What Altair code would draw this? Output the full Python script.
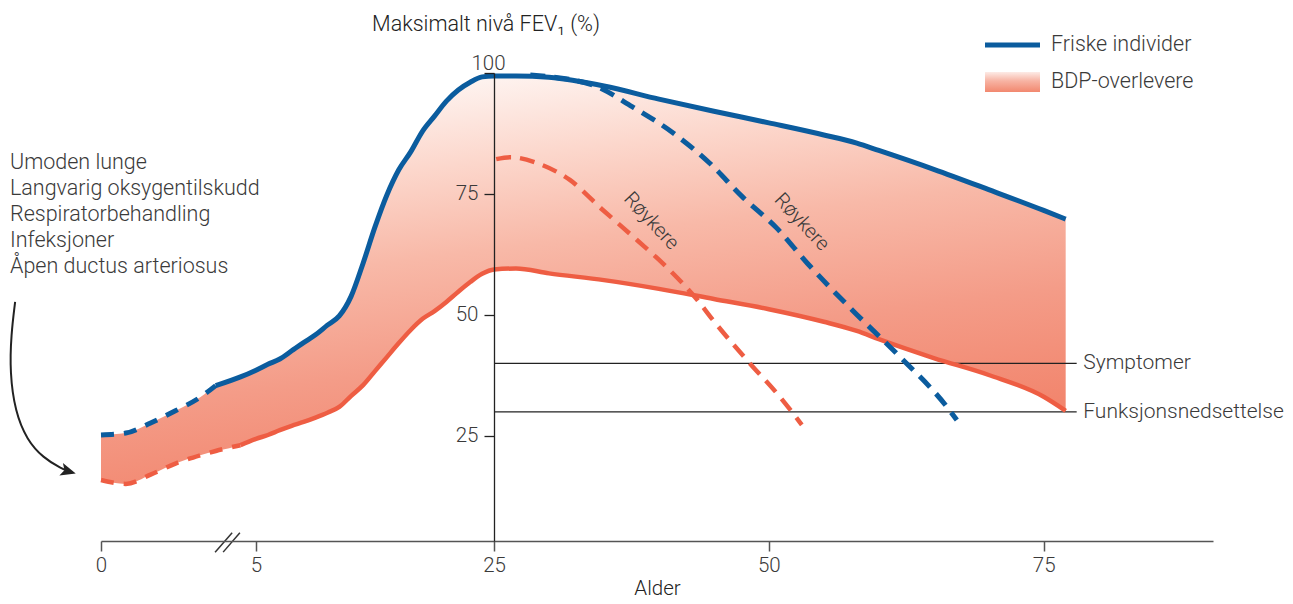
import altair as alt
import pandas as pd

# ---------------- data ----------------
ages = [0, 0.8, 1.6, 2.4, 3.2, 3.7, 4.5, 5, 6, 7, 8, 9, 10, 11, 12, 13, 14, 15, 16, 17,
        18, 19, 20, 21, 22, 23, 24, 25, 27, 30, 35, 40, 45, 50, 55, 58, 60, 65, 70, 75, 77]
healthy = [25.2, 25.6, 27.7, 30.2, 33.0, 35.4, 37.2, 38.6, 39.8, 40.9, 42.6, 44.3, 45.9, 47.9,
           49.8, 53.9, 60.7, 68.2, 74.8, 80.0, 83.7, 88.0, 91.1, 94.2, 96.5, 98.1, 99.2, 99.4,
           99.4, 99.1, 97.3, 94.6, 92.1, 89.7, 87.2, 85.5, 84.0, 80.1, 75.9, 71.6, 69.8]
bdp = [15.9, 15.1, 17.0, 19.3, 21.0, 21.9, 23.1, 24.4, 25.2, 26.2, 27.1, 27.9, 28.8, 29.8,
       31.0, 33.3, 35.5, 38.4, 41.3, 44.2, 46.9, 49.2, 50.8, 52.7, 54.8, 56.8, 58.5, 59.4,
       59.6, 58.6, 57.2, 55.4, 53.3, 51.2, 48.6, 46.7, 45.0, 41.1, 37.6, 33.1, 30.2]
healthy_dash_until = 3.7
bdp_dash_until = 4.5

smoker_h_age = [28.3, 34.0, 37.6, 41.3, 44.6, 47.6, 50.7, 53.5, 57.6, 61.6, 66.2, 67.1]
smoker_h_val = [99.6, 97.5, 93.0, 87.6, 81.4, 74.4, 68.0, 60.7, 51.0, 42.1, 31.0, 28.3]
smoker_b_age = [25.2, 26.5, 28.9, 31.9, 34.9, 38.0, 40.7, 43.5, 44.9, 48.0, 51.0, 53.0]
smoker_b_val = [82.2, 82.6, 81.4, 77.9, 71.7, 65.5, 59.9, 53.1, 49.0, 40.7, 33.1, 27.3]

threshold_vals = [40, 30]
threshold_labels = ["Symptomer", "Funksjonsnedsettelse"]
threshold_from, threshold_to, threshold_label_at = 25, 78, 78.6

smoker_label_age = [39.3, 53.0]
smoker_label_val = [69.4, 69.2]

risk_lines = ["Umoden lunge", "Langvarig oksygentilskudd", "Respiratorbehandling",
              "Infeksjoner", "Åpen ductus arteriosus"]

# arrow (annotation) path in data units (negative age = left of axis)
arrow_age = [-2.77, -2.90, -2.94, -2.77, -2.39, -1.87, -1.26, -1.05]
arrow_val = [52.7, 45.9, 38.2, 30.0, 24.2, 20.5, 18.2, 17.7]

BLUE = "#0b5c9e"
RED = "#ee5d43"
TXT = "#3a3a3a"
FONT = "Roboto"
FS = 21.5

df = pd.DataFrame({"age": ages, "healthy": healthy, "bdp": bdp})
df_h_dash = df[df.age <= healthy_dash_until]
df_h_solid = df[df.age >= healthy_dash_until]
df_b_dash = df[df.age <= bdp_dash_until]
df_b_solid = df[df.age >= bdp_dash_until]
df_sh = pd.DataFrame({"age": smoker_h_age, "v": smoker_h_val})
df_sb = pd.DataFrame({"age": smoker_b_age, "v": smoker_b_val})
df_thr = pd.DataFrame({"v": threshold_vals, "label": threshold_labels,
                       "a0": threshold_from, "a1": threshold_to, "al": threshold_label_at})
df_smk_lbl = pd.DataFrame({"age": smoker_label_age, "v": smoker_label_val, "t": "Røykere"})
df_arrow = pd.DataFrame({"age": arrow_age, "v": arrow_val, "o": range(len(arrow_age))})
df_break = pd.DataFrame({"a0": [3.68, 3.94], "a1": [4.23, 4.48], "v0": [1.0, 1.0], "v1": [5.0, 5.0]})
one = pd.DataFrame({"a": [0]})

# ---------------- scales / axes ----------------
xs = alt.Scale(domain=[0, 5, 25, 90.4], range=[0, 155, 393, 1112], nice=False, zero=False)
ys = alt.Scale(domain=[3.3, 100], nice=False, zero=False)

is100 = "datum.value == 100"
x_axis = alt.Axis(values=[0, 5, 25, 50, 75], tickSize=10, labelFontSize=20.5, labelColor=TXT,
                  labelFont=FONT, labelFontWeight=300, domainColor="#555555",
                  tickColor="#555555", domainWidth=1.5, tickWidth=1.5, title="Alder",
                  titleFont=FONT, titleFontSize=20.5, titleFontWeight=300, titleColor="#222222",
                  titlePadding=3, labelPadding=4, grid=False, labelFlush=False, zindex=1)
y_axis = alt.Axis(values=[25, 50, 75, 100], offset=-393, tickSize=10, labelFontSize=20.5,
                  labelColor=TXT, labelFont=FONT, labelFontWeight=300, domainColor="#222222",
                  tickColor="#222222", domainWidth=1.3, tickWidth=1.3, grid=False, title=None,
                  labelFlush=False, labelOverlap=False, zindex=1,
                  labelAlign={"condition": {"test": is100, "value": "center"}, "value": "right"},
                  labelBaseline={"condition": {"test": is100, "value": "bottom"}, "value": "middle"},
                  labelPadding={"condition": {"test": is100, "value": -4}, "value": 6})


def X(f):
    return alt.X(f, type="quantitative", scale=xs, axis=x_axis)


def Y(f):
    return alt.Y(f, type="quantitative", scale=ys, axis=y_axis)


grad = alt.Gradient(
    gradient="linear",
    stops=[alt.GradientStop(color="#ffffff", offset=0),
           alt.GradientStop(color="#fef5f2", offset=0.1),
           alt.GradientStop(color="#fcd7cc", offset=0.3),
           alt.GradientStop(color="#f8b9a8", offset=0.5),
           alt.GradientStop(color="#f49c88", offset=0.75),
           alt.GradientStop(color="#f2866e", offset=1)],
    x1=0, y1=0, x2=0.3, y2=1)

area = alt.Chart(df).mark_area(interpolate="monotone", color=grad).encode(
    x=X("age"), y=Y("healthy"), y2="bdp")

thr = alt.Chart(df_thr).mark_rule(color="#222222", strokeWidth=1.3).encode(
    x=X("a0"), x2="a1", y=Y("v"))
thr_txt = alt.Chart(df_thr).mark_text(align="left", baseline="middle", fontSize=21,
                                      font=FONT, fontWeight=300, color=TXT).encode(
    x=X("al"), y=Y("v"), text="label")

brk = alt.Chart(df_break).mark_rule(color="#333333", strokeWidth=1.5).encode(
    x=X("a0"), x2="a1", y=Y("v0"), y2="v1")


def line(d, field, color, width, dash=None):
    kw = dict(interpolate="monotone", color=color, strokeWidth=width, strokeCap="butt")
    if dash:
        kw["strokeDash"] = dash
    return alt.Chart(d).mark_line(**kw).encode(x=X("age"), y=Y(field))


l_b_dash = line(df_b_dash, "bdp", RED, 4.5, [13, 10])
l_b_solid = line(df_b_solid, "bdp", RED, 4.5)
l_sb = line(df_sb, "v", RED, 4.5, [15, 9])
l_h_dash = line(df_h_dash, "healthy", BLUE, 5, [13, 10])
l_h_solid = line(df_h_solid, "healthy", BLUE, 5)
l_sh = line(df_sh, "v", BLUE, 5, [15, 9])

smk_txt = alt.Chart(df_smk_lbl).mark_text(fontSize=20, font=FONT, fontWeight=300, color=TXT,
                                          angle=47, align="center", baseline="middle").encode(
    x=X("age"), y=Y("v"), text="t")

arrow = alt.Chart(df_arrow).mark_line(interpolate="basis", color="#222222",
                                      strokeWidth=2).encode(
    x=X("age"), y=Y("v"), order="o")
arrow_head = alt.Chart(df_arrow.tail(1)).mark_point(
    shape="M-1,-0.85L1,0L-1,0.85L-0.55,0Z", filled=True, color="#222222", opacity=1,
    size=230, angle=16).encode(x=X("age"), y=Y("v"))

# ---------------- text / legend annotations (pixel positions) ----------------
title = alt.Chart(one).mark_text(text="Maksimalt nivå FEV₁ (%)", fontSize=FS, font=FONT,
                                 fontWeight=300, color="#222222", align="center",
                                 baseline="middle").encode(
    x=alt.value(385), y=alt.value(-48))
risk = alt.Chart(one).mark_text(fontSize=FS, font=FONT, fontWeight=300, color=TXT,
                                align="left", baseline="top", lineHeight=26).encode(
    x=alt.value(-91), y=alt.value(79), text=alt.value(risk_lines))

leg_line = alt.Chart(one).mark_rule(color=BLUE, strokeWidth=5).encode(
    x=alt.value(884), x2=alt.value(939), y=alt.value(-28))
leg_grad = alt.Chart(one).mark_rect(color=alt.Gradient(
    gradient="linear",
    stops=[alt.GradientStop(color="#fdebe6", offset=0),
           alt.GradientStop(color="#f7b3a3", offset=0.45),
           alt.GradientStop(color="#f2886f", offset=1)],
    x1=0, y1=0, x2=0, y2=1)).encode(
    x=alt.value(884), x2=alt.value(939), y=alt.value(-1), y2=alt.value(19))
leg_t1 = alt.Chart(one).mark_text(text="Friske individer", fontSize=FS, font=FONT,
                                  fontWeight=300, color=TXT, align="left",
                                  baseline="middle").encode(
    x=alt.value(950), y=alt.value(-28))
leg_t2 = alt.Chart(one).mark_text(text="BDP-overlevere", fontSize=FS, font=FONT,
                                  fontWeight=300, color=TXT, align="left",
                                  baseline="middle").encode(
    x=alt.value(950), y=alt.value(9))

chart = alt.layer(
    area, thr, brk, l_b_dash, l_b_solid, l_sb, l_h_dash, l_h_solid, l_sh,
    smk_txt, thr_txt, arrow, arrow_head, title, risk, leg_line, leg_grad, leg_t1, leg_t2
).properties(
    width=1112, height=468,
    background="white",
    autosize=alt.AutoSizeParams(type="none"),
    padding={"left": 93, "top": 65, "right": 72, "bottom": 62},
).configure_view(stroke=None)

chart.save("out.html", embed_options={"renderer": "svg", "actions": False})
